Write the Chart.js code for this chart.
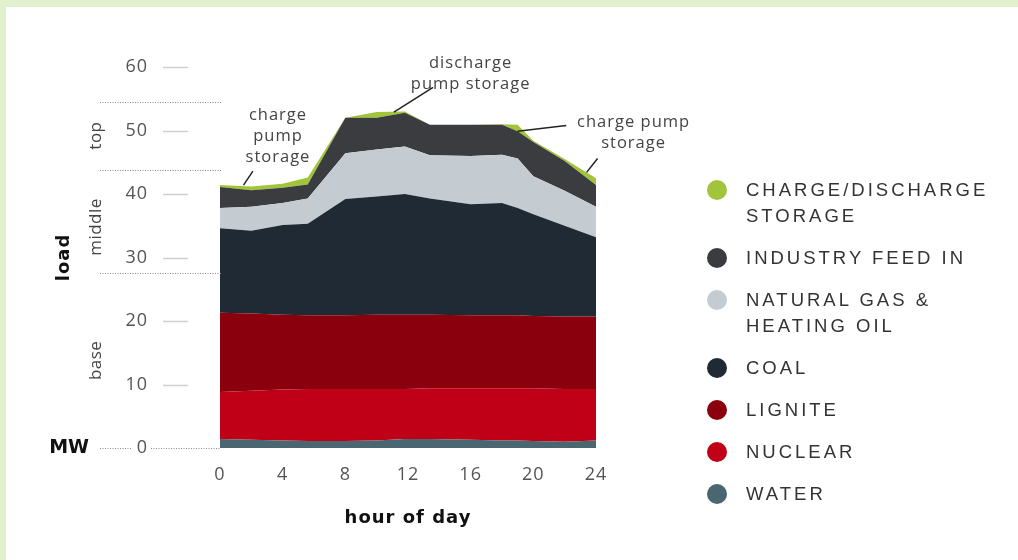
<!DOCTYPE html>
<html>
<head>
<meta charset="utf-8">
<script src="https://cdn.jsdelivr.net/npm/chart.js@4.4.1/dist/chart.umd.min.js"></script>
<style>
    html, body { margin: 0; padding: 0; }
    body { width: 1018px; height: 560px; background: #e1f1cd; position: relative; overflow: hidden; }
    #panel { position: absolute; left: 6px; top: 7px; right: 0; bottom: 0; background: #fff; }
    #chartBox { position: absolute; left: 0; top: 0; width: 1018px; height: 560px; }
    #legend { position: absolute; left: 707px; top: 177px; margin: 0; padding: 0; list-style: none;
              font-family: "Liberation Sans", Arial, sans-serif; font-size: 18.5px; letter-spacing: 3px; color: #333; }
    #legend li { position: relative; padding-left: 39px; line-height: 26px; margin-bottom: 16px; }
    #legend .dot { position: absolute; left: 0; top: 3px; width: 20px; height: 20px; border-radius: 50%; }
</style>
</head>
<body>
<div id="panel"></div>
<div id="chartBox"><canvas id="myChart" width="1018" height="560"></canvas></div>
<ul id="legend"></ul>
<script>
// hour of day (x values shared by every series)
const hours = [0, 2, 4, 5.6, 8, 10, 11.8, 13.4, 16, 18, 19, 20, 22, 24];

// load per source in MW, stacked bottom to top
const water    = [1.4, 1.3, 1.2, 1.1, 1.1, 1.2, 1.4, 1.4, 1.3, 1.2, 1.2, 1.1, 1.0, 1.2];
const nuclear  = [7.4, 7.7, 8.0, 8.2, 8.2, 8.1, 7.9, 8.0, 8.1, 8.2, 8.2, 8.3, 8.3, 8.1];
const lignite  = [12.5, 12.2, 11.8, 11.6, 11.6, 11.7, 11.7, 11.6, 11.5, 11.5, 11.5, 11.4, 11.4, 11.4];
const coal     = [13.3, 13.0, 14.1, 14.4, 18.3, 18.6, 19.0, 18.3, 17.5, 17.7, 16.9, 16.0, 14.3, 12.5];
const gasOil   = [3.2, 3.8, 3.5, 4.0, 7.2, 7.4, 7.5, 6.8, 7.6, 7.6, 7.8, 6.0, 5.5, 4.8];
const industry = [3.3, 2.6, 2.4, 2.2, 5.6, 5.0, 5.3, 4.8, 4.9, 4.7, 4.3, 5.4, 4.7, 3.4];
const storage  = [0.3, 0.6, 0.6, 1.1, 0, 0.9, 0.2, 0, 0, 0.1, 1.0, 0.2, 0.3, 1.1];

const seriesNames = ['WATER', 'NUCLEAR', 'LIGNITE', 'COAL', 'NATURAL GAS & HEATING OIL', 'INDUSTRY FEED IN', 'CHARGE/DISCHARGE STORAGE'];
const seriesColors = ['#4a6670', '#bf0017', '#8a000d', '#1f2a35', '#c4ccd1', '#3b3c3f', '#a2c43a'];
const seriesData = [water, nuclear, lignite, coal, gasOil, industry, storage];

// legend lines (top to bottom)
const legendLines = [
    ['CHARGE/DISCHARGE', 'STORAGE'],
    ['INDUSTRY FEED IN'],
    ['NATURAL GAS &', 'HEATING OIL'],
    ['COAL'],
    ['LIGNITE'],
    ['NUCLEAR'],
    ['WATER']
];

const yTicks = [0, 10, 20, 30, 40, 50, 60];
const bandEdges = [27.6, 43.8, 54.5];
const bandLabels = [
    { text: 'base', v: 13.8 },
    { text: 'middle', v: 34.8 },
    { text: 'top', v: 49.2 }
];

// callouts: text lines centred at (x, y) in data units, leader from/to in data units
const callouts = [
    { lines: ['charge', 'pump', 'storage'], x: 3.7, y: 52.4, from: [2.1, 43.6], to: [1.5, 41.4] },
    { lines: ['discharge', 'pump storage'], x: 16.0, y: 60.6, from: [13.6, 56.8], to: [11.1, 52.9] },
    { lines: ['charge pump', 'storage'], x: 26.4, y: 51.3, from: [22.1, 50.8], to: [19.0, 49.9] },
    { lines: [], from: [24.1, 45.6], to: [23.4, 43.4] }
];

function buildLegend() {
    const ul = document.getElementById('legend');
    legendLines.forEach((lines, i) => {
        const idx = seriesNames.length - 1 - i;
        const li = document.createElement('li');
        const dot = document.createElement('span');
        dot.className = 'dot';
        dot.style.background = seriesColors[idx];
        li.appendChild(dot);
        li.appendChild(document.createTextNode(lines[0]));
        for (let k = 1; k < lines.length; k++) {
            li.appendChild(document.createElement('br'));
            li.appendChild(document.createTextNode(lines[k]));
        }
        ul.appendChild(li);
    });
}

const decorations = {
    id: 'decorations',
    beforeDraw(chart) {
        // the original tick numbers are a little spaced out
        chart.ctx.letterSpacing = '1px';
    },
    afterDraw(chart) {
        const { ctx } = chart;
        const x = chart.scales.x;
        const y = chart.scales.y;
        ctx.save();

        // short tick dashes next to the labels
        ctx.strokeStyle = '#cfcfcf';
        ctx.lineWidth = 1.5;
        yTicks.forEach(v => {
            if (v === 0) return;
            const py = Math.round(y.getPixelForValue(v)) + 0.5;
            ctx.beginPath();
            ctx.moveTo(163, py);
            ctx.lineTo(188, py);
            ctx.stroke();
        });

        // dotted band separators
        ctx.strokeStyle = '#8a8a8a';
        ctx.lineWidth = 1;
        ctx.setLineDash([1, 1.5]);
        bandEdges.forEach(v => {
            const py = Math.round(y.getPixelForValue(v)) + 0.5;
            ctx.beginPath();
            ctx.moveTo(100, py);
            ctx.lineTo(x.left + 2, py);
            ctx.stroke();
        });
        const p0 = Math.round(y.getPixelForValue(0)) + 0.5;
        ctx.beginPath();
        ctx.moveTo(100, p0); ctx.lineTo(132, p0);
        ctx.moveTo(151, p0); ctx.lineTo(x.left, p0);
        ctx.stroke();
        ctx.setLineDash([]);

        // band names, rotated
        ctx.fillStyle = '#444';
        ctx.font = '17px "Open Sans"';
        ctx.letterSpacing = '0.5px';
        ctx.textAlign = 'center';
        ctx.textBaseline = 'middle';
        bandLabels.forEach(b => {
            ctx.save();
            ctx.translate(96, y.getPixelForValue(b.v));
            ctx.rotate(-Math.PI / 2);
            ctx.fillText(b.text, 0, 0);
            ctx.restore();
        });

        // unit label
        ctx.fillStyle = '#111';
        ctx.font = 'bold 19px "DejaVu Sans"';
        ctx.letterSpacing = '0px';
        ctx.textAlign = 'right';
        ctx.fillText('MW', 89, p0);

        // callouts
        ctx.fillStyle = '#444';
        ctx.font = '16.5px "Open Sans"';
        ctx.letterSpacing = '1px';
        ctx.textAlign = 'center';
        ctx.strokeStyle = '#222';
        ctx.lineWidth = 1.5;
        callouts.forEach(c => {
            c.lines.forEach((t, i) => {
                ctx.fillText(t, x.getPixelForValue(c.x), y.getPixelForValue(c.y) + i * 21);
            });
            ctx.beginPath();
            ctx.moveTo(x.getPixelForValue(c.from[0]), y.getPixelForValue(c.from[1]));
            ctx.lineTo(x.getPixelForValue(c.to[0]), y.getPixelForValue(c.to[1]));
            ctx.stroke();
        });
        ctx.restore();
        ctx.letterSpacing = '0px';
    }
};

function addLoadChart() {
    const data = {
        labels: hours,
        datasets: seriesData.map((values, i) => ({
            label: seriesNames[i],
            data: values.map((v, k) => ({ x: hours[k], y: v })),
            backgroundColor: seriesColors[i],
            borderColor: seriesColors[i],
            borderWidth: 0,
            pointRadius: 0,
            tension: 0,
            fill: i === 0 ? 'origin' : '-1'
        }))
    };
    const config = {
        type: 'line',
        data: data,
        options: {
            responsive: false,
            animation: false,
            layout: { padding: { left: 0, right: 422, top: 67, bottom: 0 } },
            plugins: { legend: { display: false }, tooltip: { enabled: false } },
            scales: {
                x: {
                    type: 'linear',
                    min: 0,
                    max: 24,
                    grid: { display: false, drawTicks: false },
                    border: { display: false },
                    ticks: { stepSize: 4, padding: 16, color: '#555', font: { family: 'Open Sans', size: 18 } },
                    title: { display: true, text: 'hour of day', color: '#111',
                             font: { family: 'DejaVu Sans', size: 18, weight: 'bold' }, padding: { top: 0, bottom: 31 } },
                    afterFit: (scale) => { scale.height = 112; }
                },
                y: {
                    stacked: true,
                    min: 0,
                    max: 60,
                    grid: { display: false, drawTicks: false },
                    border: { display: false },
                    ticks: { stepSize: 10, padding: 72, color: '#555', font: { family: 'Open Sans', size: 18 } },
                    title: { display: true, text: 'load', color: '#111',
                             font: { family: 'DejaVu Sans', size: 18, weight: 'bold' }, padding: { top: 54, bottom: 0 } },
                    afterFit: (scale) => {
                        scale.width = 220;
                        // big label padding should not push the plot area down
                        scale.paddingTop = 0;
                        scale.paddingBottom = 0;
                    }
                }
            }
        },
        plugins: [decorations]
    };
    myChart = new Chart(document.getElementById('myChart'), config);
}

let myChart;
buildLegend();
addLoadChart();
</script>
</body>
</html>
